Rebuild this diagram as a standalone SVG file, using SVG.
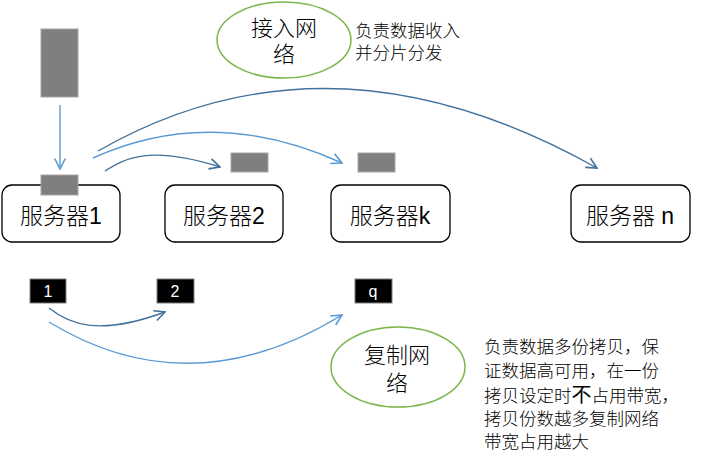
<svg xmlns="http://www.w3.org/2000/svg" width="703" height="460" viewBox="0 0 703 460">
<style>
.srv{fill:#fff;stroke:#000;stroke-width:1.3}
.st{font-family:"Liberation Sans","Noto Sans CJK SC",sans-serif;font-size:23px;font-weight:300;fill:#000;text-anchor:middle}
.gray{fill:#7f7f7f;stroke:#a6a6a6;stroke-width:1}
.blk{fill:#000;stroke:#7f7f7f;stroke-width:1}
.bt{font-family:"Liberation Sans Narrow","Liberation Sans",sans-serif;font-size:16px;fill:#fff;text-anchor:middle}
.ell{fill:#fff;stroke:#7ab648;stroke-width:1.5}
.et{font-family:"Noto Sans CJK SC",sans-serif;font-size:22px;font-weight:300;fill:#000;text-anchor:middle}
.note{font-family:"Noto Sans CJK SC",sans-serif;font-size:17.5px;font-weight:300;fill:#000}
.dk{fill:none;stroke:#41719c;stroke-width:1.4}
.lt{fill:none;stroke:#5b9bd5;stroke-width:1.4}
</style>
<defs>
<marker id="ad" markerUnits="userSpaceOnUse" markerWidth="14" markerHeight="14" refX="10" refY="5" orient="auto" viewBox="-1 -1 12 12">
<path d="M1,0.5 L10,5 L1,9.5" fill="none" stroke="#41719c" stroke-width="1.4"/>
</marker>
<marker id="al" markerUnits="userSpaceOnUse" markerWidth="14" markerHeight="14" refX="10" refY="5" orient="auto" viewBox="-1 -1 12 12">
<path d="M1,0.5 L10,5 L1,9.5" fill="none" stroke="#5b9bd5" stroke-width="1.4"/>
</marker>
</defs>

<g id="access-network">
<ellipse class="ell" cx="284" cy="40" rx="67" ry="38"/>
<text class="et"><tspan x="284" y="36">接入网</tspan><tspan x="284" y="62">络</tspan></text>
</g>
<g id="access-note">
<text class="note"><tspan x="355" y="37">负责数据收入</tspan><tspan x="355" y="59">并分片分发</tspan></text>
</g>

<g id="data-block">
<rect class="gray" x="41" y="29" width="37" height="68"/>
</g>

<g id="server1">
<rect class="srv" x="2" y="185" width="118" height="57" rx="10"/>
<text class="st" x="61" y="224">服务器1</text>
<rect class="gray" x="41" y="175" width="37" height="20"/>
</g>
<g id="server2">
<rect class="srv" x="165" y="185" width="118" height="57" rx="10"/>
<text class="st" x="224" y="224">服务器2</text>
</g>
<g id="serverk">
<rect class="srv" x="331" y="185" width="119" height="57" rx="10"/>
<text class="st" x="390" y="224">服务器k</text>
</g>
<g id="servern">
<rect class="srv" x="571" y="185" width="119" height="57" rx="10"/>
<text class="st" x="630" y="224">服务器 n</text>
</g>

<g id="shard2"><rect class="gray" x="231" y="153" width="37" height="19"/></g>
<g id="shardk"><rect class="gray" x="358" y="153" width="37" height="19"/></g>

<g id="copy1"><rect class="blk" x="30" y="279" width="36" height="24"/><text class="bt" x="48" y="297">1</text></g>
<g id="copy2"><rect class="blk" x="157" y="279" width="37" height="24"/><text class="bt" x="175" y="297">2</text></g>
<g id="copyq"><rect class="blk" x="355" y="279" width="37" height="24"/><text class="bt" x="373" y="297">q</text></g>

<g id="copy-network">
<ellipse class="ell" cx="398" cy="367" rx="67" ry="40"/>
<text class="et"><tspan x="397" y="363">复制网</tspan><tspan x="397" y="391">络</tspan></text>
</g>
<g id="copy-note">
<text class="note"><tspan x="484" y="353">负责数据多份拷贝，保</tspan><tspan x="484" y="377">证数据高可用，在一份</tspan><tspan x="484" y="402">拷贝设定时</tspan><tspan font-size="20" font-weight="400">不</tspan><tspan>占用带宽，</tspan><tspan x="484" y="425">拷贝份数越多复制网络</tspan><tspan x="484" y="448">带宽占用越大</tspan></text>
</g>

<g id="connectors">
<path class="lt" d="M60,105 L60,169" marker-end="url(#al)"/>
<path class="dk" d="M98,151 Q330,18 597,168" marker-end="url(#ad)"/>
<path class="lt" d="M93,158 Q212,104 342,163" marker-end="url(#al)"/>
<path class="dk" d="M105,171 C125,158 150,145 220,167" marker-end="url(#ad)"/>
<path class="dk" d="M49,308 C70,325 100,336 165,312" marker-end="url(#ad)"/>
<path class="lt" d="M49,322 Q190,408 342,315" marker-end="url(#al)"/>
</g>
</svg>
